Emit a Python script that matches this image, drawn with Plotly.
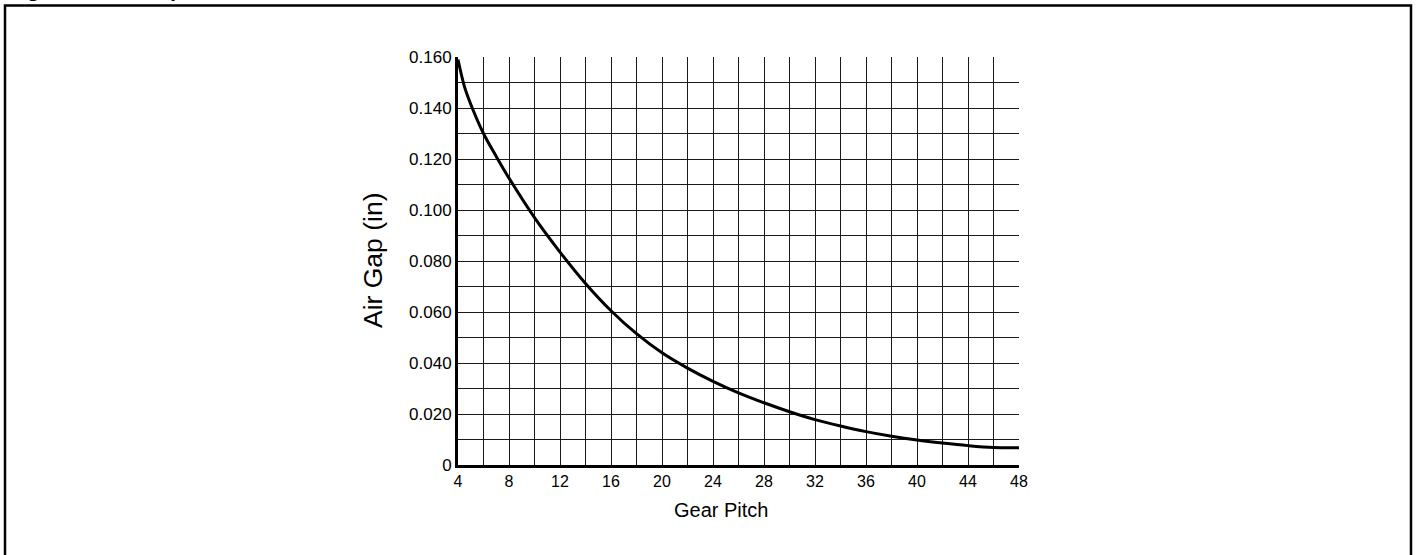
import plotly.graph_objects as go

# Data
gear_pitch = [4, 4.5, 5, 6, 7, 8, 10, 12, 14, 16, 18, 20, 22, 24, 26, 28, 30, 32, 34, 36, 38, 40, 42, 44, 46, 48]
air_gap = [0.159, 0.1485, 0.1415, 0.1300, 0.1210, 0.1125, 0.0970, 0.0835, 0.0712, 0.0605, 0.0515, 0.0440,
           0.0380, 0.0328, 0.0283, 0.0244, 0.0209, 0.0178, 0.0153, 0.0131, 0.0113, 0.0098, 0.0086, 0.0076,
           0.0069, 0.0068]

x_tickvals = list(range(4, 49, 2))
x_ticktext = [str(v) if v % 4 == 0 else "" for v in x_tickvals]
y_tickvals = [i / 100 for i in range(0, 17)]
y_ticktext = ["0" if i == 0 else (f"{i/100:.3f}" if i % 2 == 0 else "") for i in range(0, 17)]

title_text = "Figure 6. Air Gap Performance Curve"
x_title = "Gear Pitch"
y_title = "Air Gap (in)"

FONT = "Liberation Sans, Arial, sans-serif"

fig = go.Figure()
fig.add_trace(go.Scatter(x=gear_pitch, y=air_gap, mode="lines",
                         line=dict(color="black", width=3, shape="spline", smoothing=1.0),
                         hoverinfo="skip", showlegend=False))

W, H = 1419, 555
L, R, T, B = 458, 1019, 57, 465
pw, ph = R - L, B - T

def px_x(px):
    return (px - L) / pw

def px_y(py):
    return (B - py) / ph

fig.update_layout(
    width=W, height=H,
    margin=dict(l=L, r=W - R, t=T, b=H - B, pad=0),
    paper_bgcolor="white", plot_bgcolor="white",
    font=dict(family=FONT, color="black"),
    xaxis=dict(range=[4, 48], tickvals=x_tickvals, ticktext=x_ticktext,
               showgrid=True, gridcolor="#1a1a1a", gridwidth=1.2,
               showline=True, linecolor="black", linewidth=3,
               ticks="", tickfont=dict(size=16), ticklabelstandoff=0,
               zeroline=False, fixedrange=True),
    yaxis=dict(range=[0, 0.16], tickvals=y_tickvals, ticktext=y_ticktext,
               showgrid=True, gridcolor="#1a1a1a", gridwidth=1.2,
               showline=True, linecolor="black", linewidth=3,
               ticks="", tickfont=dict(size=17), ticklabelstandoff=0,
               zeroline=False, fixedrange=True),
    shapes=[dict(type="rect", xref="paper", yref="paper",
                 x0=px_x(5), x1=px_x(1411),
                 y0=px_y(560), y1=px_y(5.5),
                 line=dict(color="black", width=2.5), fillcolor="rgba(0,0,0,0)", layer="below")],
    annotations=[
        dict(text=f"<b>{title_text}</b>", xref="paper", yref="paper",
             x=px_x(5), y=px_y(3.2), xanchor="left", yanchor="bottom",
             showarrow=False, font=dict(size=22, family=FONT, color="black")),
        dict(text=x_title, xref="paper", yref="paper",
             x=px_x(721), y=px_y(510), xanchor="center", yanchor="middle",
             showarrow=False, font=dict(size=20, family=FONT, color="black")),
        dict(text=y_title, xref="paper", yref="paper", textangle=-90,
             x=px_x(373), y=px_y(261), xanchor="center", yanchor="middle",
             showarrow=False, font=dict(size=26.5, family=FONT, color="black")),
    ],
)

fig.write_html("out.html", config={"displayModeBar": False},
               post_script="document.body.style.margin='0';document.body.style.padding='0';")
